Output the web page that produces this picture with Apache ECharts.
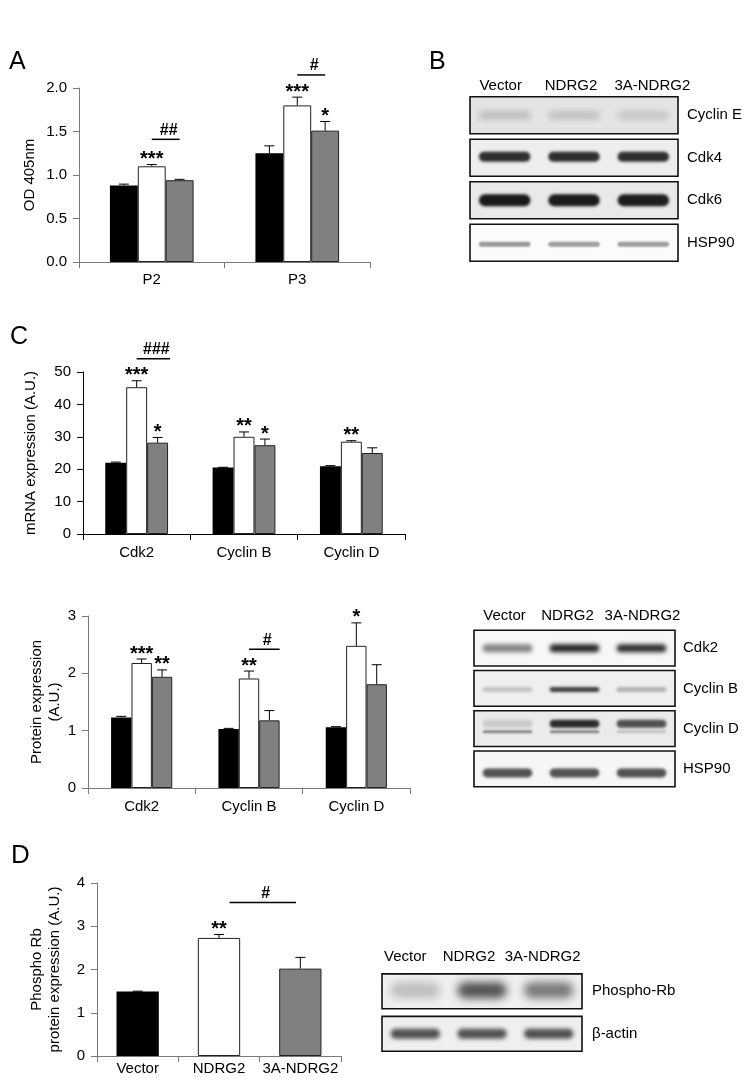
<!DOCTYPE html>
<html>
<head>
<meta charset="utf-8">
<script src="https://cdn.jsdelivr.net/npm/echarts@6.0.0/dist/echarts.min.js"></script>
<style>
  html, body { margin: 0; background: #fff; }
  #main { width: 752px; height: 1086px; }
</style>
</head>
<body>
<div id="main"></div>
<script>
var FONT = '"Liberation Sans", Arial, sans-serif';
var groupColors = ['#000000', '#ffffff', '#808080'];

// ---- panel A : OD 405nm
var catsA = ['P2', 'P3'];
var vectorA = [0.88, 1.25];
var ndrg2A = [1.10, 1.80];
var mutA = [0.94, 1.51];
var vectorAErr = [0.895, 1.335];   // top of error bar
var ndrg2AErr = [1.12, 1.895];
var mutAErr = [0.95, 1.615];
var starsA = [['', '***', ''], ['', '***', '*']];
var hashA = [[0, 1, 2, 1.41, '##'], [1, 1, 2, 2.15, '#']];

// ---- panel C : mRNA
var catsC = ['Cdk2', 'Cyclin B', 'Cyclin D'];
var vectorC1 = [22.0, 20.5, 20.9];
var ndrg2C1 = [45.3, 30.0, 28.5];
var mutC1 = [28.2, 27.4, 25.0];
var vectorC1Err = [22.2, 20.6, 21.1];
var ndrg2C1Err = [47.3, 31.5, 28.8];
var mutC1Err = [29.8, 29.3, 26.6];
var starsC1 = [['', '***', '*'], ['', '**', '*'], ['', '**', '']];
var hashC1 = [[0, 1, 2.6, 54.1, '###']];

// ---- panel C : protein
var vectorC2 = [1.23, 1.03, 1.06];
var ndrg2C2 = [2.18, 1.91, 2.48];
var mutC2 = [1.94, 1.18, 1.81];
var vectorC2Err = [1.25, 1.04, 1.07];
var ndrg2C2Err = [2.25, 2.04, 2.88];
var mutC2Err = [2.06, 1.35, 2.15];
var starsC2 = [['', '***', '**'], ['', '**', ''], ['', '*', '']];
var hashC2 = [[1, 1, 2.5, 2.42, '#']];

// ---- panel D : phospho Rb
var catsD = ['Vector', 'NDRG2', '3A-NDRG2'];
var valuesD = [1.49, 2.73, 2.02];
var errD = [1.50, 2.81, 2.28];
var starsD = [[''], ['**'], ['']];
var hashD = [[1, 0.25, 1.82, 3.55, '#']];

// ---- blots (band darkness 0..1)
var lanes = ['Vector', 'NDRG2', '3A-NDRG2'];
var rowsB = ['Cyclin E', 'Cdk4', 'Cdk6', 'HSP90'];
var bandsB = [[0.2, 0.18, 0.15], [0.88, 0.88, 0.88], [0.98, 0.97, 0.96], [0.42, 0.4, 0.4]];
var rowsC = ['Cdk2', 'Cyclin B', 'Cyclin D', 'HSP90'];
var bandsC = [[0.5, 0.92, 0.88], [0.2, 0.8, 0.28], [0.15, 0.9, 0.72], [0.72, 0.72, 0.72]];
var bandsCycDLower = [0.45, 0.45, 0.18];
var rowsD = ['Phospho-Rb', 'β-actin'];
var bandsD = [[0.22, 0.72, 0.55], [0.72, 0.72, 0.72]];

var myChart = echarts.init(document.getElementById('main'), null, { renderer: 'canvas' });

function barWidth(api, gap, n) {
  return api.size([1, 0])[0] * (1 - gap) / n;
}

function barPanel(idx, groups, tops, stars, hashes, gap) {
  var n = groups.length;
  var series = [];
  if (n === 1) {
    series.push({
      type: 'bar', xAxisIndex: idx, yAxisIndex: idx, barCategoryGap: gap * 100 + '%',
      data: groups[0].map(function (v, i) {
        return { value: v, itemStyle: { color: groupColors[i], borderColor: i ? '#222' : '#000', borderWidth: i ? 1 : 0 } };
      })
    });
  } else {
    groups.forEach(function (g, gi) {
      series.push({
        type: 'bar', xAxisIndex: idx, yAxisIndex: idx, data: g,
        barGap: '0%', barCategoryGap: gap * 100 + '%',
        itemStyle: { color: groupColors[gi], borderColor: gi ? '#222' : '#000', borderWidth: gi ? 1 : 0 }
      });
    });
  }
  // error bars
  var errData = [];
  groups.forEach(function (g, gi) {
    g.forEach(function (v, ci) { errData.push([ci, gi, v, tops[gi][ci]]); });
  });
  series.push({
    type: 'custom', xAxisIndex: idx, yAxisIndex: idx, clip: false, z: 5,
    encode: { x: 0, y: 3 }, data: errData,
    renderItem: function (params, api) {
      var c = api.value(0), g = api.value(1);
      var bw = barWidth(api, gap, n);
      var x = api.coord([c, 0])[0] + (g - (n - 1) / 2) * bw;
      var y1 = api.coord([c, api.value(2)])[1];
      var y2 = api.coord([c, api.value(3)])[1];
      var ls = { stroke: '#000', lineWidth: 1 };
      return {
        type: 'group', children: [
          { type: 'line', shape: { x1: x, y1: y1, x2: x, y2: y2 }, style: ls },
          { type: 'line', shape: { x1: x - 5, y1: y2, x2: x + 5, y2: y2 }, style: ls }
        ]
      };
    }
  });
  // significance stars
  var starData = [], starText = [];
  stars.forEach(function (row, ci) {
    row.forEach(function (s, gi) {
      if (s) { starData.push([ci, gi, tops[gi][ci]]); starText.push(s); }
    });
  });
  series.push({
    type: 'custom', xAxisIndex: idx, yAxisIndex: idx, clip: false, z: 6,
    encode: { x: 0, y: 2 }, data: starData,
    renderItem: function (params, api) {
      var c = api.value(0), g = api.value(1);
      var bw = barWidth(api, gap, n);
      var x = api.coord([c, 0])[0] + (g - (n - 1) / 2) * bw;
      var y = api.coord([c, api.value(2)])[1];
      return {
        type: 'text', style: {
          text: starText[params.dataIndex], x: x, y: y + 5, align: 'center', verticalAlign: 'bottom',
          font: 'bold 20px ' + FONT, fill: '#000'
        }
      };
    }
  });
  // comparison lines
  series.push({
    type: 'custom', xAxisIndex: idx, yAxisIndex: idx, clip: false, z: 6,
    encode: { x: 0, y: 3 }, data: hashes.map(function (h) { return [h[0], h[1], h[2], h[3]]; }),
    renderItem: function (params, api) {
      var c = api.value(0);
      var bw = barWidth(api, gap, n);
      var cx = api.coord([c, 0])[0];
      var x1 = cx + (api.value(1) - (n - 1) / 2) * bw;
      var x2 = cx + (api.value(2) - (n - 1) / 2) * bw;
      var y = api.coord([c, api.value(3)])[1];
      return {
        type: 'group', children: [
          { type: 'line', shape: { x1: x1, y1: y, x2: x2, y2: y }, style: { stroke: '#000', lineWidth: 1.5 } },
          { type: 'text', style: {
              text: hashes[params.dataIndex][4], x: (x1 + x2) / 2 + 3, y: y - 1,
              align: 'center', verticalAlign: 'bottom', font: 'bold 16px ' + FONT, fill: '#000'
          } }
        ]
      };
    }
  });
  return series;
}

function blotSeries(idx, bands, styles, boxFrac) {
  var rowsN = styles.length;
  var boxes = [];
  for (var r = 0; r < rowsN; r++) boxes.push([0, r]);
  var bandData = [], bandInfo = [];
  bands.forEach(function (b) { bandData.push([b[0], b[1]]); bandInfo.push(b); });
  return [{
    type: 'custom', xAxisIndex: idx, yAxisIndex: idx, clip: false, z: 1,
    encode: { x: 0, y: 1 }, data: boxes,
    renderItem: function (params, api) {
      var r = api.value(1);
      var cy = api.coord([0, r])[1];
      var h = api.size([0, 1])[1] * boxFrac;
      var cs = params.coordSys;
      return {
        type: 'rect', shape: { x: cs.x, y: cy - h / 2, width: cs.width, height: h },
        style: { fill: styles[r][0].bg, stroke: '#111', lineWidth: 1.6 }
      };
    }
  }, {
    type: 'custom', xAxisIndex: idx, yAxisIndex: idx, clip: false, z: 2,
    encode: { x: 0, y: 1 }, data: bandData,
    renderItem: function (params, api) {
      var info = bandInfo[params.dataIndex];
      var st = styles[info[1]][info[2]];
      var c = api.coord([info[0], info[1]]);
      var w = api.size([1, 0])[0] * 0.8;
      var OFF = 3000;
      var cy = c[1] + st.dy;
      return {
        type: 'rect',
        shape: { x: c[0] - w / 2 + 2 - OFF, y: cy - st.h / 2, width: w - 4, height: st.h, r: st.h / 2 },
        style: { fill: '#000', shadowBlur: st.blur, shadowColor: 'rgba(20,20,20,' + info[3] + ')', shadowOffsetX: OFF }
      };
    }
  }];
}

function bandList(matrix, extra) {
  var out = [];
  matrix.forEach(function (row, r) {
    row.forEach(function (v, l) { out.push([l, r, 0, v]); });
  });
  if (extra) extra.forEach(function (e) { out.push(e); });
  return out;
}

var styleB = [
  [{ h: 8, blur: 6, dy: 0, bg: '#e4e4e4' }],
  [{ h: 10, blur: 3, dy: -1, bg: '#eeeeee' }],
  [{ h: 12, blur: 3, dy: 0, bg: '#e9e9e9' }],
  [{ h: 5, blur: 2, dy: 1.5, bg: '#fbfbfb' }]
];
var styleC = [
  [{ h: 8, blur: 4, dy: 0, bg: '#f7f7f7' }],
  [{ h: 5, blur: 3, dy: 1, bg: '#efefef' }],
  [{ h: 8, blur: 3, dy: -5, bg: '#ebebeb' }, { h: 3, blur: 2, dy: 3, bg: '#ebebeb' }],
  [{ h: 9, blur: 3, dy: 4, bg: '#f6f6f6' }]
];
var styleD = [
  [{ h: 16, blur: 8, dy: -1, bg: '#efefef' }],
  [{ h: 10, blur: 4, dy: 0, bg: '#efefef' }]
];

var cycDExtra = bandsCycDLower.map(function (v, l) { return [l, 2, 1, v]; });

function valueAxis(idx, min, max, interval, color, name, gap, fmt) {
  return {
    gridIndex: idx, type: 'value', min: min, max: max, interval: interval,
    axisLine: { show: true, lineStyle: { color: color, width: 1 } },
    axisTick: { show: true, length: 6, lineStyle: { color: color } },
    axisLabel: { margin: 12, color: '#000', fontSize: 15, fontFamily: FONT, formatter: fmt },
    splitLine: { show: false },
    name: name, nameLocation: 'middle', nameGap: gap,
    nameTextStyle: { color: '#000', fontSize: 15, fontFamily: FONT, lineHeight: 18 }
  };
}
function catAxis(idx, cats, color, margin) {
  return {
    gridIndex: idx, type: 'category', data: cats,
    axisLine: { lineStyle: { color: color, width: 1 } },
    axisTick: { show: true, alignWithLabel: false, length: 6, lineStyle: { color: color } },
    axisLabel: { margin: margin, color: '#000', fontSize: 15, fontFamily: FONT, interval: 0 },
    splitLine: { show: false }
  };
}
// lane headers: shift[i] nudges each header sideways (px)
function blotX(idx, margin, shift) {
  var rich = {};
  shift.forEach(function (s, i) {
    rich['h' + i] = {
      fontSize: 15, fontFamily: FONT, color: '#000',
      padding: s >= 0 ? [0, 0, 0, 2 * s] : [0, -2 * s, 0, 0]
    };
  });
  return {
    gridIndex: idx, type: 'category', data: lanes, position: 'top',
    axisLine: { show: false }, axisTick: { show: false },
    axisLabel: {
      margin: margin, interval: 0, rich: rich,
      formatter: function (v, i) { return '{h' + i + '|' + v + '}'; }
    }
  };
}
function blotY(idx, rows, margin) {
  return {
    gridIndex: idx, type: 'category', data: rows, inverse: true, position: 'right',
    axisLine: { show: false }, axisTick: { show: false },
    axisLabel: { margin: margin, color: '#000', fontSize: 15, fontFamily: FONT }
  };
}

var gray = '#7a7a7a';
var option = {
  backgroundColor: '#ffffff',
  animation: false,
  textStyle: { fontFamily: FONT },
  grid: [
    { left: 79, top: 88, width: 291, height: 174 },
    { left: 83, top: 372, width: 322, height: 162 },
    { left: 88, top: 616, width: 322, height: 172 },
    { left: 97, top: 883, width: 244, height: 173 },
    { left: 470, top: 94, width: 208, height: 170 },
    { left: 474, top: 628, width: 201, height: 161 },
    { left: 382, top: 970, width: 200, height: 85 }
  ],
  xAxis: [
    catAxis(0, catsA, gray, 10),
    catAxis(1, catsC, '#000', 11),
    catAxis(2, catsC, gray, 11),
    catAxis(3, catsD, gray, 5),
    blotX(4, 1, [-4, -3, 9]),
    blotX(5, 5, [-3, -7, 1]),
    blotX(6, 6, [-10, -13, -6])
  ],
  yAxis: [
    valueAxis(0, 0, 2, 0.5, gray, 'OD 405nm', 40, function (v) { return v.toFixed(1); }),
    valueAxis(1, 0, 50, 10, '#000', 'mRNA expression (A.U.)', 43),
    valueAxis(2, 0, 3, 1, gray, 'Protein expression\n(A.U.)', 22),
    valueAxis(3, 0, 4, 1, gray, 'Phospho Rb\nprotein expression (A.U.)', 33),
    blotY(4, rowsB, 9),
    blotY(5, rowsC, 8),
    blotY(6, rowsD, 10)
  ],
  series: [].concat(
    barPanel(0, [vectorA, ndrg2A, mutA], [vectorAErr, ndrg2AErr, mutAErr], starsA, hashA, 0.425),
    barPanel(1, [vectorC1, ndrg2C1, mutC1], [vectorC1Err, ndrg2C1Err, mutC1Err], starsC1, hashC1, 0.415),
    barPanel(2, [vectorC2, ndrg2C2, mutC2], [vectorC2Err, ndrg2C2Err, mutC2Err], starsC2, hashC2, 0.43),
    barPanel(3, [valuesD], [errD], starsD, hashD, 0.48),
    blotSeries(4, bandList(bandsB), styleB, 0.87),
    blotSeries(5, bandList(bandsC, cycDExtra), styleC, 0.885),
    blotSeries(6, bandList(bandsD), styleD, 0.82)
  ),
  graphic: [
    { type: 'text', left: 9, top: 50, style: { text: 'A', font: '25px ' + FONT, fill: '#000' } },
    { type: 'text', left: 429, top: 50, style: { text: 'B', font: '25px ' + FONT, fill: '#000' } },
    { type: 'text', left: 10, top: 325, style: { text: 'C', font: '25px ' + FONT, fill: '#000' } },
    { type: 'text', left: 11, top: 843, style: { text: 'D', font: '26px ' + FONT, fill: '#000' } }
  ]
};

myChart.setOption(option);
</script>
</body>
</html>
